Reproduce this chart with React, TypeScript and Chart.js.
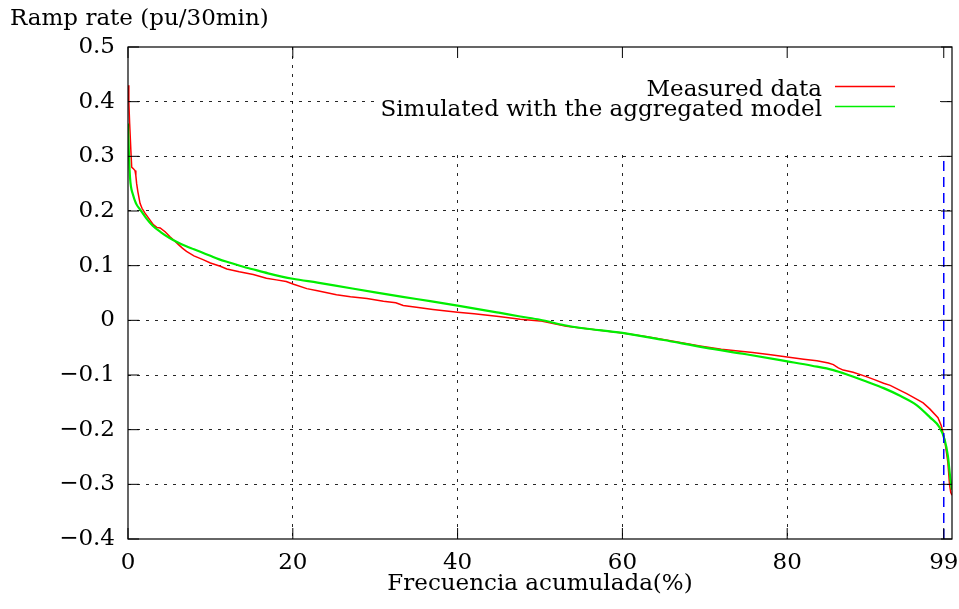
import { useEffect, useRef } from "react";
import { Chart, registerables } from "chart.js";

Chart.register(...registerables);

// ---- data ----
const xTicks = [0, 20, 40, 60, 80, 99];
const yTicks = [-0.4, -0.3, -0.2, -0.1, 0, 0.1, 0.2, 0.3, 0.4, 0.5];

const xLabel = "Frecuencia acumulada(%)";
const yLabel = "Ramp rate (pu/30min)";
const seriesNames = ["Measured data", "Simulated with the aggregated model"];

const measuredX = [
  0, 0.1, 0.2, 0.35, 0.45, 0.6, 0.85, 0.95, 1.05, 1.2, 1.46, 1.7, 2.06, 2.5, 3.07, 3.5, 3.9, 4.5, 5.1, 5.6,
  6.1, 6.6, 7.1, 8.0, 9.1, 10.0, 11.2, 12.0, 13.5, 15.2, 16.8, 18.0, 19.2, 20.1, 21.7, 23.0, 25.3, 27, 29, 31,
  32.5, 33.4, 35, 37, 40, 42, 45, 47.6, 50, 53.2, 56, 60, 63, 66, 69.4, 72, 75.8, 78, 80, 82,
  83.6, 85.0, 85.6, 86.2, 86.8, 88, 89.6, 90.5, 91.7, 92.5, 93.7, 94.5, 95.7, 96.5, 97.3, 98.3, 98.7, 99.1, 99.5, 99.7,
  99.85, 100,
];
const measuredY = [
  0.43, 0.4, 0.36, 0.31, 0.28, 0.278, 0.274, 0.265, 0.25, 0.235, 0.214, 0.205, 0.196, 0.187, 0.175, 0.17, 0.169, 0.162, 0.153, 0.146,
  0.139, 0.132, 0.126, 0.118, 0.111, 0.105, 0.099, 0.094, 0.089, 0.084, 0.077, 0.074, 0.071, 0.066, 0.058, 0.054, 0.047, 0.043, 0.04, 0.035,
  0.032, 0.027, 0.024, 0.02, 0.015, 0.012, 0.007, 0.002, -0.001, -0.011, -0.016, -0.023, -0.03, -0.038, -0.047, -0.053, -0.059, -0.063, -0.067, -0.071,
  -0.074, -0.078, -0.081, -0.087, -0.091, -0.095, -0.103, -0.108, -0.115, -0.119, -0.128, -0.134, -0.144, -0.151, -0.162, -0.178, -0.193, -0.218, -0.26, -0.3,
  -0.315, -0.32,
];

const simulatedX = [
  0, 0.1, 0.25, 0.6, 1.0, 1.5, 2.2, 3.0, 4.0, 5.0, 6.0, 7.0, 8.0, 9.0, 10, 11, 12.5, 14, 15, 17,
  20, 23, 25, 30, 35, 40, 45, 47.6, 50, 53, 55, 60, 65, 70, 75, 80, 83, 85.6, 87.6, 89.6,
  91.7, 93.7, 95.7, 97.3, 98.5, 99.1, 99.5, 99.8, 100,
];
const simulatedY = [
  0.36, 0.31, 0.26, 0.23, 0.213, 0.202, 0.187, 0.173, 0.161, 0.151, 0.143, 0.136, 0.13, 0.124, 0.118, 0.112, 0.105, 0.098, 0.094, 0.086,
  0.076, 0.069, 0.064, 0.051, 0.039, 0.027, 0.014, 0.007, 0.001, -0.009, -0.014, -0.023, -0.036, -0.05, -0.062, -0.075, -0.083, -0.091, -0.101, -0.112,
  -0.124, -0.138, -0.155, -0.177, -0.196, -0.218, -0.248, -0.29, -0.31,
];

const markerX = [99, 99];
const markerY = [-0.4, 0.3];

// ---- styles ----
const FONT_FAMILY = "'DejaVu Serif', serif";
const FONT_SIZE = 23;

const toPoints = (xs: number[], ys: number[]) => xs.map((x, i) => ({ x, y: ys[i] }));

const fmtY = (v: number) => {
  const r = Math.round(v * 10) / 10;
  if (r === 0) return "0";
  return (r < 0 ? "\u2212" : "") + Math.abs(r).toFixed(1);
};

const framePlugin = {
  id: "gnuplotFrame",
  beforeDatasetsDraw(chart: any) {
    const { ctx } = chart;
    ctx.save();
    ctx.fillStyle = "#ffffff";
    ctx.fillRect(378, 48, 562, 107);
    ctx.restore();
  },
  afterDatasetsDraw(chart: any) {
    const { ctx, chartArea: a, scales } = chart;
    ctx.save();
    // frame
    ctx.strokeStyle = "#000";
    ctx.lineWidth = 1.2;
    ctx.setLineDash([]);
    ctx.strokeRect(a.left, a.top, a.right - a.left, a.bottom - a.top);
    // inward ticks
    const tl = 11;
    ctx.lineWidth = 1;
    ctx.beginPath();
    yTicks.forEach((v) => {
      const y = scales.y.getPixelForValue(v);
      ctx.moveTo(a.left, y);
      ctx.lineTo(a.left + tl, y);
      ctx.moveTo(a.right, y);
      ctx.lineTo(a.right - tl, y);
    });
    xTicks.forEach((v) => {
      const x = scales.x.getPixelForValue(v);
      ctx.moveTo(x, a.bottom);
      ctx.lineTo(x, a.bottom - tl);
      ctx.moveTo(x, a.top);
      ctx.lineTo(x, a.top + tl);
    });
    ctx.stroke();

    // legend
    ctx.font = `${FONT_SIZE}px ${FONT_FAMILY}`;
    ctx.fillStyle = "#000";
    ctx.textAlign = "right";
    ctx.textBaseline = "alphabetic";
    const legendSets = chart.data.datasets.filter((d: any) => seriesNames.includes(d.label));
    legendSets.forEach((d: any, i: number) => {
      const base = 96 + i * 20;
      ctx.fillStyle = "#000";
      ctx.fillText(d.label, 822, base);
      ctx.strokeStyle = d.borderColor;
      ctx.lineWidth = 1.5;
      ctx.beginPath();
      ctx.moveTo(835, base - 9.5);
      ctx.lineTo(895, base - 9.5);
      ctx.stroke();
    });

    // y axis label (horizontal at top-left)
    ctx.textAlign = "left";
    ctx.fillStyle = "#000";
    ctx.fillText(yLabel, 10, 25);
    ctx.restore();
  },
};

export default function App() {
  const canvasRef = useRef<HTMLCanvasElement | null>(null);

  useEffect(() => {
    const canvas = canvasRef.current;
    if (!canvas) return;
    const gridColorX = (c: any) => {
      const v = c.tick ? c.tick.value : null;
      return v === 0 || v === 99 || v === 100 ? "rgba(0,0,0,0)" : "rgba(0,0,0,0.85)";
    };
    const gridColorY = (c: any) => {
      const v = c.tick ? c.tick.value : null;
      return v === -0.4 || v === 0.5 ? "rgba(0,0,0,0)" : "rgba(0,0,0,0.85)";
    };
    const chart = new Chart(canvas, {
      type: "line",
      data: {
        datasets: [
          {
            label: seriesNames[0],
            data: toPoints(measuredX, measuredY),
            borderColor: "#ff0000",
            borderWidth: 1.5,
            pointRadius: 0,
            tension: 0,
            order: 2,
          },
          {
            label: seriesNames[1],
            data: toPoints(simulatedX, simulatedY),
            borderColor: "#00ee00",
            borderWidth: 2.2,
            pointRadius: 0,
            cubicInterpolationMode: "monotone",
            order: 1,
          },
          {
            label: "99%",
            data: toPoints(markerX, markerY),
            borderColor: "#0000ff",
            borderWidth: 1.5,
            borderDash: [10, 6],
            pointRadius: 0,
            order: 0,
          },
        ],
      },
      options: {
        animation: false,
        responsive: true,
        maintainAspectRatio: false,
        layout: { padding: { top: 47, right: 7, left: 0, bottom: 0 } },
        plugins: {
          legend: { display: false },
          tooltip: { enabled: false },
          title: { display: false },
        },
        scales: {
          x: {
            type: "linear",
            min: 0,
            max: 100,
            afterBuildTicks: (scale: any) => {
              scale.ticks = xTicks.map((v) => ({ value: v }));
            },
            afterFit: (scale: any) => {
              scale.height = 70;
              scale.paddingRight = 0;
              scale.paddingLeft = 0;
            },
            ticks: {
              autoSkip: false,
              maxRotation: 0,
              padding: 10,
              color: "#000",
              font: { family: FONT_FAMILY, size: FONT_SIZE },
              callback: (v: any) => String(v),
            },
            grid: { color: gridColorX, lineWidth: 1, drawTicks: false },
            border: { display: false, dash: [3, 6] },
            title: {
              display: true,
              text: xLabel,
              color: "#000",
              font: { family: FONT_FAMILY, size: FONT_SIZE },
              padding: { top: 0, bottom: 11 },
            },
          },
          y: {
            type: "linear",
            min: -0.4,
            max: 0.5,
            afterBuildTicks: (scale: any) => {
              scale.ticks = yTicks.map((v) => ({ value: v }));
            },
            afterFit: (scale: any) => {
              scale.width = 128;
            },
            ticks: {
              autoSkip: false,
              padding: 13,
              color: "#000",
              font: { family: FONT_FAMILY, size: FONT_SIZE },
              callback: (v: any) => fmtY(Number(v)),
            },
            grid: { color: gridColorY, lineWidth: 1, drawTicks: false },
            border: { display: false, dash: [3, 6] },
          },
        },
      },
      plugins: [framePlugin],
    });
    return () => chart.destroy();
  }, []);

  return (
    <div style={{ position: "absolute", left: 0, top: 0, width: 959, height: 609, background: "#fff" }}>
      <canvas ref={canvasRef} />
    </div>
  );
}
